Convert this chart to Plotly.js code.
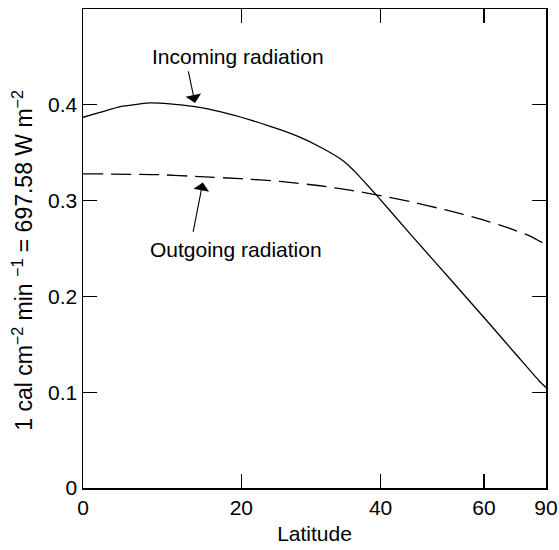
<!DOCTYPE html>
<html>
<head>
<meta charset="utf-8">
<script src="https://cdn.plot.ly/plotly-3.0.1.min.js"></script>
<style>html,body{margin:0;padding:0;background:#fff;}#chart{width:559px;height:550px;}</style>
</head>
<body>
<div id="chart"></div>
<script>
// Latitude (degrees) and radiation (cal cm^-2 min^-1)
var latIncoming = [0, 2.1, 4.6, 7.1, 8.3, 10.8, 14.0, 17.2, 20.0, 22.5, 25.2, 28.0, 30.8, 33.7, 34.8, 36.0, 37.5, 39.3, 45, 53, 60, 70, 80, 90];
var incoming    = [0.387, 0.392, 0.398, 0.401, 0.402, 0.401, 0.398, 0.393, 0.387, 0.381, 0.374, 0.366, 0.356, 0.344, 0.338, 0.330, 0.319, 0.306, 0.265, 0.215, 0.178, 0.137, 0.112, 0.105];

var latOutgoing = [0, 9.6, 14.6, 19.8, 25.2, 30.8, 35.2, 39.3, 44.9, 51.8, 59.0, 66.3, 74.9, 90];
var outgoing    = [0.328, 0.327, 0.325, 0.323, 0.320, 0.3155, 0.311, 0.306, 0.299, 0.290, 0.281, 0.272, 0.263, 0.254];

var latTicks = [0, 20, 40, 60, 90];
var latTickText = ['0', '20', '40', '60', '90'];
var yTicks = [0, 0.1, 0.2, 0.3, 0.4];
var yTickText = ['0', '0.1', '0.2', '0.3', '0.4'];

// x axis is drawn on a sine-of-latitude scale
function sinLat(d) { return Math.sin(d * Math.PI / 180); }

var FONT = 'Liberation Sans, Arial, Helvetica, sans-serif';
var FS = 21;

var traces = [
  {
    x: latIncoming.map(sinLat), y: incoming, type: 'scatter', mode: 'lines',
    name: 'Incoming radiation',
    line: {color: '#000', width: 1.3, shape: 'spline', smoothing: 0.4}
  },
  {
    x: latOutgoing.map(sinLat), y: outgoing, type: 'scatter', mode: 'lines',
    name: 'Outgoing radiation',
    line: {color: '#000', width: 1.3, dash: '20px,8px', shape: 'spline', smoothing: 0.5}
  }
];

var layout = {
  width: 559, height: 550,
  margin: {l: 83, r: 13, t: 9, b: 62},
  paper_bgcolor: '#fff', plot_bgcolor: '#fff',
  showlegend: false,
  font: {family: FONT, size: FS, color: '#000'},
  xaxis: {
    range: [0, 1], tickmode: 'array',
    tickvals: latTicks.map(sinLat), ticktext: latTickText,
    ticks: 'inside', ticklen: 14, tickwidth: 1.2, tickcolor: '#000',
    showline: true, linecolor: '#000', linewidth: 1.5, mirror: 'ticks',
    showgrid: false, zeroline: false,
    tickfont: {family: FONT, size: FS, color: '#000'},
    title: {text: 'Latitude', font: {family: FONT, size: FS, color: '#000'}, standoff: 8}
  },
  yaxis: {
    range: [0, 0.5], tickmode: 'array',
    tickvals: yTicks, ticktext: yTickText,
    ticks: 'inside', ticklen: 14, tickwidth: 1.2, tickcolor: '#000',
    showline: true, linecolor: '#000', linewidth: 1.5, mirror: 'ticks',
    showgrid: false, zeroline: false,
    tickfont: {family: FONT, size: FS, color: '#000'}
  },
  annotations: [
    {
      xref: 'paper', yref: 'paper', x: -0.13, y: 0.476, textangle: -90,
      text: '1 cal cm<sup>\u22122</sup> min <sup>\u22121</sup> = 697.58 W m<sup>\u22122</sup>',
      showarrow: false, xanchor: 'center', yanchor: 'middle',
      font: {family: FONT, size: 23, color: '#000'}
    },
    {
      xref: 'paper', yref: 'paper', x: 0.335, y: 0.900,
      text: 'Incoming radiation', showarrow: false,
      xanchor: 'center', yanchor: 'middle',
      font: {family: FONT, size: FS, color: '#000'}
    },
    {
      xref: 'paper', yref: 'paper', x: 0.330, y: 0.497,
      text: 'Outgoing radiation', showarrow: false,
      xanchor: 'center', yanchor: 'middle',
      font: {family: FONT, size: FS, color: '#000'}
    },
    {
      xref: 'x', yref: 'y', x: sinLat(14.0), y: 0.402, text: '',
      showarrow: true, arrowhead: 1, arrowsize: 2.4, arrowwidth: 1.1, arrowcolor: '#000',
      ax: -7, ay: -33
    },
    {
      xref: 'x', yref: 'y', x: sinLat(15.0), y: 0.319, text: '',
      showarrow: true, arrowhead: 1, arrowsize: 2.4, arrowwidth: 1.1, arrowcolor: '#000',
      ax: -10, ay: 51
    }
  ]
};

Plotly.newPlot('chart', traces, layout, {displayModeBar: false, staticPlot: true});
</script>
</body>
</html>
